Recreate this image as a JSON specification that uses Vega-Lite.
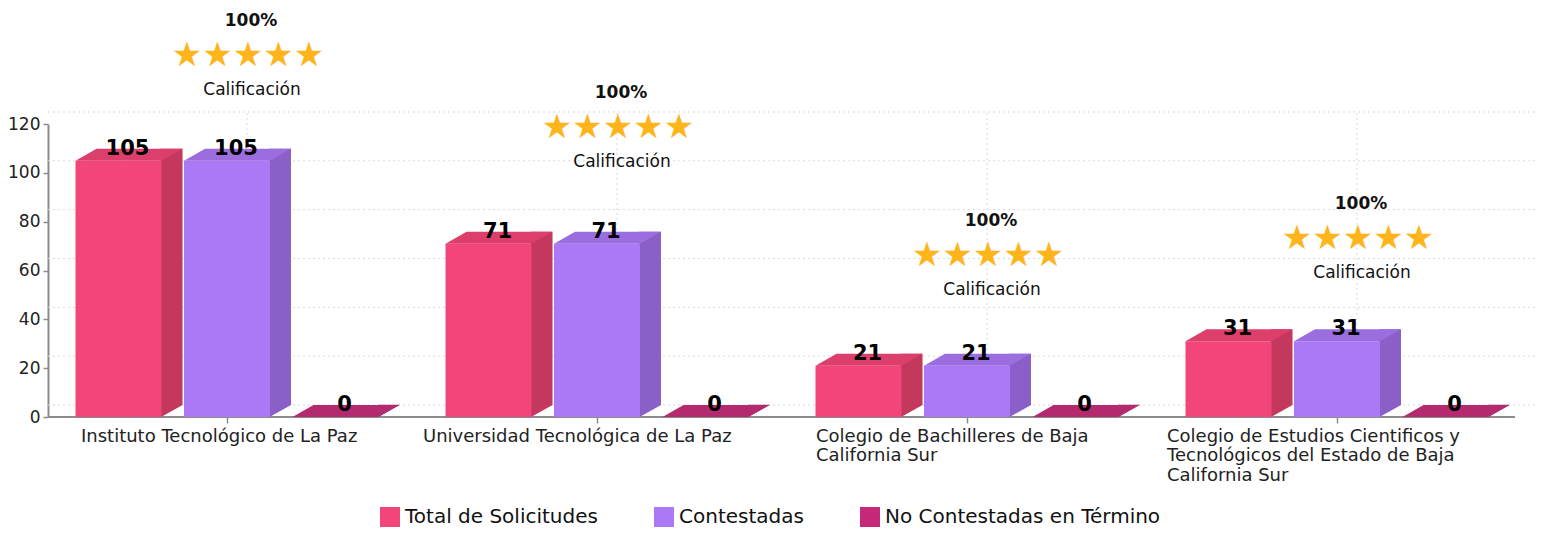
{
  "$schema": "https://vega.github.io/schema/vega-lite/v6.json",
  "width": 1467,
  "height": 415,
  "autosize": "none",
  "padding": {"left": 48, "top": 2, "right": 36, "bottom": 116},
  "config": {"view": {"stroke": null}, "font": "DejaVu Sans"},
  "datasets": {
    "main": [
      {"group": "Instituto Tecnológico de La Paz", "serie": "Total de Solicitudes", "value": 105},
      {"group": "Instituto Tecnológico de La Paz", "serie": "Contestadas", "value": 105},
      {"group": "Instituto Tecnológico de La Paz", "serie": "No Contestadas en Término", "value": 0},
      {"group": "Universidad Tecnológica de La Paz", "serie": "Total de Solicitudes", "value": 71},
      {"group": "Universidad Tecnológica de La Paz", "serie": "Contestadas", "value": 71},
      {"group": "Universidad Tecnológica de La Paz", "serie": "No Contestadas en Término", "value": 0},
      {"group": "Colegio de Bachilleres de Baja California Sur", "serie": "Total de Solicitudes", "value": 21},
      {"group": "Colegio de Bachilleres de Baja California Sur", "serie": "Contestadas", "value": 21},
      {"group": "Colegio de Bachilleres de Baja California Sur", "serie": "No Contestadas en Término", "value": 0},
      {"group": "Colegio de Estudios Cientificos y Tecnológicos del Estado de Baja California Sur", "serie": "Total de Solicitudes", "value": 31},
      {"group": "Colegio de Estudios Cientificos y Tecnológicos del Estado de Baja California Sur", "serie": "Contestadas", "value": 31},
      {"group": "Colegio de Estudios Cientificos y Tecnológicos del Estado de Baja California Sur", "serie": "No Contestadas en Término", "value": 0}
    ],
    "ratings": [
      {"group": "Instituto Tecnológico de La Paz", "pct": "100%", "stars": "★★★★★", "label": "Calificación", "ratingPos": 148.5},
      {"group": "Universidad Tecnológica de La Paz", "pct": "100%", "stars": "★★★★★", "label": "Calificación", "ratingPos": 119.2},
      {"group": "Colegio de Bachilleres de Baja California Sur", "pct": "100%", "stars": "★★★★★", "label": "Calificación", "ratingPos": 66.8},
      {"group": "Colegio de Estudios Cientificos y Tecnológicos del Estado de Baja California Sur", "pct": "100%", "stars": "★★★★★", "label": "Calificación", "ratingPos": 73.7}
    ],
    "ticks": [{"t": 0}, {"t": 20}, {"t": 40}, {"t": 60}, {"t": 80}, {"t": 100}, {"t": 120}]
  },
  "layer": [
    {
      "data": {"name": "ticks"},
      "mark": {"type": "rule", "color": "#d9d9d9", "strokeDash": [2, 3], "strokeWidth": 1, "xOffset": 20, "x2Offset": 20, "yOffset": -12, "y2Offset": -12},
      "encoding": {"y": {"field": "t", "type": "quantitative"}}
    },
    {
      "data": {"name": "ratings"},
      "mark": {"type": "rule", "color": "#d9d9d9", "strokeDash": [2, 3], "strokeWidth": 1, "xOffset": 20, "yOffset": -12, "y2Offset": -12},
      "encoding": {
        "x": {"field": "group", "type": "nominal"},
        "y": {"datum": 0, "type": "quantitative"},
        "y2": {"datum": 120}
      }
    },
    {
      "data": {"values": [{}]},
      "mark": {"type": "rule", "color": "#8c8c8c", "strokeWidth": 2},
      "encoding": {"y": {"datum": 0, "type": "quantitative"}}
    },
    {
      "data": {"name": "main"},
      "mark": {"type": "bar", "width": 22, "yOffset": -12, "y2Offset": -12},
      "encoding": {
        "x": {"field": "group", "type": "nominal"},
        "xOffset": {"field": "serie", "type": "nominal", "sort": null,
          "scale": {"type": "band", "domain": ["Total de Solicitudes", "Contestadas", "No Contestadas en Término"], "range": [53, 423], "paddingInner": 0.207, "paddingOuter": 0.309}},
        "y": {"field": "value", "type": "quantitative"},
        "color": {"field": "serie", "type": "nominal", "legend": null,
          "scale": {"domain": ["Total de Solicitudes", "Contestadas", "No Contestadas en Término"], "range": ["#C3385C", "#8A5FC8", "#9E2460"]}}
      }
    },
    {
      "data": {"name": "main"},
      "mark": {"type": "point", "filled": true, "opacity": 1, "strokeWidth": 0, "size": 10000, "shape": "M 0.85 -0.245 L 0.85 0 L 1.29 -0.245 Z"},
      "encoding": {
        "x": {"field": "group", "type": "nominal"},
        "xOffset": {"field": "serie", "type": "nominal", "sort": null,
          "scale": {"type": "band", "domain": ["Total de Solicitudes", "Contestadas", "No Contestadas en Término"], "paddingInner": 0.207, "paddingOuter": 0.309}},
        "y": {"datum": 0, "type": "quantitative"},
        "color": {"field": "serie", "type": "nominal", "legend": null,
          "scale": {"domain": ["Total de Solicitudes", "Contestadas", "No Contestadas en Término"], "range": ["#C3385C", "#8A5FC8", "#9E2460"]}}
      }
    },
    {
      "data": {"name": "main"},
      "mark": {"type": "bar"},
      "encoding": {
        "x": {"field": "group", "type": "nominal", "sort": null,
          "scale": {"domain": ["Instituto Tecnológico de La Paz", "Universidad Tecnológica de La Paz", "Colegio de Bachilleres de Baja California Sur", "Colegio de Estudios Cientificos y Tecnológicos del Estado de Baja California Sur"], "range": [-6, 1474], "paddingInner": 0, "paddingOuter": 0},
          "axis": {"title": null, "domain": false, "grid": false, "ticks": true, "tickSize": 6, "tickColor": "#8c8c8c", "tickWidth": 1.5,
            "labelAngle": 0, "labelAlign": "left", "labelBaseline": "top", "labelPadding": 4, "labelFontSize": 18, "labelColor": "#222", "labelLineHeight": 19.5,
            "labelOverlap": false, "labelBound": false, "labelFlush": false, "labelLimit": 0,
            "labelOffset": {"condition": [
              {"test": "datum.value == 'Instituto Tecnológico de La Paz'", "value": -146},
              {"test": "datum.value == 'Universidad Tecnológica de La Paz'", "value": -174},
              {"test": "datum.value == 'Colegio de Bachilleres de Baja California Sur'", "value": -151}
            ], "value": -170},
            "labelExpr": "datum.value == 'Colegio de Bachilleres de Baja California Sur' ? ['Colegio de Bachilleres de Baja', 'California Sur'] : datum.value == 'Colegio de Estudios Cientificos y Tecnológicos del Estado de Baja California Sur' ? ['Colegio de Estudios Cientificos y', 'Tecnológicos del Estado de Baja', 'California Sur'] : datum.label"}},
        "xOffset": {"field": "serie", "type": "nominal", "sort": null,
          "scale": {"type": "band", "domain": ["Total de Solicitudes", "Contestadas", "No Contestadas en Término"], "paddingInner": 0.207, "paddingOuter": 0.309}},
        "y": {"field": "value", "type": "quantitative",
          "scale": {"domain": [0, 120], "range": [415, 122], "nice": false},
          "axis": {"title": null, "values": [0, 20, 40, 60, 80, 100, 120], "grid": false, "domainColor": "#8c8c8c", "domainWidth": 2, "tickColor": "#8c8c8c", "tickSize": 5, "tickWidth": 1.5, "labelFontSize": 17, "labelColor": "#222", "labelPadding": 3}},
        "color": {"field": "serie", "type": "nominal",
          "scale": {"domain": ["Total de Solicitudes", "Contestadas", "No Contestadas en Término"], "range": ["#F2457A", "#AB78F6", "#C6287A"]},
          "legend": {"orient": "none", "legendX": 332, "legendY": 505, "direction": "horizontal", "title": null, "symbolType": "square", "symbolSize": 400, "symbolStrokeWidth": 0, "labelFontSize": 20, "labelColor": "#111", "labelLimit": 0, "columnPadding": 56, "labelOffset": 5}}
      }
    },
    {
      "data": {"name": "main"},
      "mark": {"type": "point", "filled": true, "opacity": 1, "strokeWidth": 0, "size": 10000, "shape": "M -0.86 0 L 0.86 0 L 1.28 -0.24 L -0.44 -0.24 Z"},
      "encoding": {
        "x": {"field": "group", "type": "nominal"},
        "xOffset": {"field": "serie", "type": "nominal", "sort": null,
          "scale": {"type": "band", "domain": ["Total de Solicitudes", "Contestadas", "No Contestadas en Término"], "paddingInner": 0.207, "paddingOuter": 0.309}},
        "y": {"field": "value", "type": "quantitative"},
        "color": {"field": "serie", "type": "nominal", "legend": null,
          "scale": {"domain": ["Total de Solicitudes", "Contestadas", "No Contestadas en Término"], "range": ["#DC3F6B", "#9C6DDE", "#B42A6E"]}}
      }
    },
    {
      "data": {"name": "main"},
      "mark": {"type": "text", "fontWeight": "bold", "fontSize": 21, "dx": 9, "dy": -6, "baseline": "alphabetic", "align": "center", "color": "#000"},
      "encoding": {
        "x": {"field": "group", "type": "nominal"},
        "xOffset": {"field": "serie", "type": "nominal", "sort": null,
          "scale": {"type": "band", "domain": ["Total de Solicitudes", "Contestadas", "No Contestadas en Término"], "paddingInner": 0.207, "paddingOuter": 0.309}},
        "y": {"field": "value", "type": "quantitative"},
        "text": {"field": "value", "type": "quantitative"}
      }
    },
    {
      "data": {"name": "ratings"},
      "mark": {"type": "text", "fontWeight": "bold", "fontSize": 17, "dx": 24, "dy": -33, "baseline": "middle", "align": "center", "color": "#111"},
      "encoding": {
        "x": {"field": "group", "type": "nominal"},
        "y": {"field": "ratingPos", "type": "quantitative"},
        "text": {"field": "pct"}
      }
    },
    {
      "data": {"name": "ratings"},
      "mark": {"type": "text", "fontSize": 34, "dx": 21, "dy": 2, "baseline": "middle", "align": "center", "color": "#FDB51B"},
      "encoding": {
        "x": {"field": "group", "type": "nominal"},
        "y": {"field": "ratingPos", "type": "quantitative"},
        "text": {"field": "stars"}
      }
    },
    {
      "data": {"name": "ratings"},
      "mark": {"type": "text", "fontSize": 17, "dx": 25, "dy": 36, "baseline": "middle", "align": "center", "color": "#111"},
      "encoding": {
        "x": {"field": "group", "type": "nominal"},
        "y": {"field": "ratingPos", "type": "quantitative"},
        "text": {"field": "label"}
      }
    }
  ],
  "resolve": {"scale": {"color": "independent", "xOffset": "independent"}}
}
